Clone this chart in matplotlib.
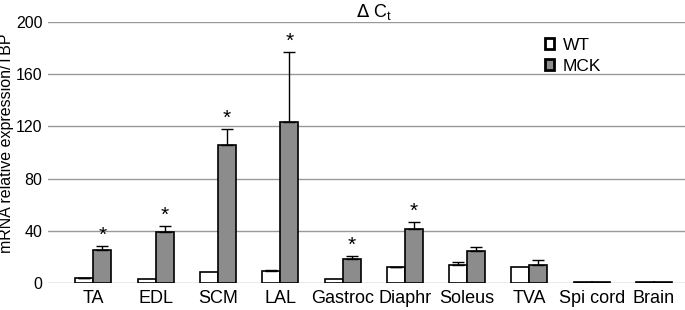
import matplotlib
matplotlib.use("Agg")
import matplotlib.pyplot as plt
import numpy as np

plt.rcParams['font.family'] = ['Liberation Sans', 'DejaVu Sans']

categories = ["TA", "EDL", "SCM", "LAL", "Gastroc", "Diaphr", "Soleus", "TVA", "Spi cord", "Brain"]
wt = [3.5, 3, 8.4, 9.2, 3, 12, 13.8, 12.0, 0.5, 0.5]
wt_err = [0.7, 0, 0, 0.8, 0, 0.5, 2.5, 0, 0, 0]
mck = [25.3, 38.8, 105.7, 123.4, 18.6, 41.4, 24.3, 14.0, 0.6, 0.6]
mck_err = [3.1, 5.1, 12.3, 53.6, 1.8, 5.1, 3.1, 3.6, 0, 0]
signif = [True, True, True, True, True, True, False, False, False, False]
yticks = [0, 40, 80, 120, 160, 200]

fig = plt.figure(figsize=(6.85, 3.1), dpi=100)
ax = fig.add_axes([48/685, 27/310, 637/685, 261/310])

x = np.arange(len(categories))
w = 0.289
ax.set_axisbelow(True)
ax.yaxis.grid(True, color='#999999', linewidth=1.0)
ax.bar(x - w/2, wt, w, color='white', edgecolor='black', linewidth=1.2, label='WT', zorder=3)
ax.bar(x + w/2, mck, w, color='#8c8c8c', edgecolor='black', linewidth=1.2, label='MCK', zorder=3)
for i in range(len(categories)):
    if wt_err[i] > 0:
        ax.errorbar(x[i] - w/2, wt[i], yerr=[[0], [wt_err[i]]], fmt='none', ecolor='black',
                    elinewidth=1.0, capsize=4, capthick=1.0, zorder=4)
    if mck_err[i] > 0:
        ax.errorbar(x[i] + w/2, mck[i], yerr=[[0], [mck_err[i]]], fmt='none', ecolor='black',
                    elinewidth=1.0, capsize=4, capthick=1.0, zorder=4)
    if signif[i]:
        ax.text(x[i] + w/2, mck[i] + mck_err[i] + 1, '*', ha='center', va='bottom', fontsize=15)

ax.set_xlim(-0.73, 9.497)
ax.set_ylim(0, 200)
ax.set_yticks(yticks)
ax.set_xticks(x)
ax.set_xticklabels(categories, fontsize=13)
ax.tick_params(axis='y', length=0, labelsize=11.5, pad=4)
ax.tick_params(axis='x', length=0, pad=5)
for s in ax.spines.values():
    s.set_visible(False)
ax.set_ylabel('mRNA relative expression/TBP', fontsize=11.5)
ax.yaxis.set_label_coords(-0.053, 0.534)
ax.set_title(r'$\Delta$ C$_\mathregular{t}$', fontsize=13, pad=3, x=0.512)
leg = ax.legend(loc='upper left', bbox_to_anchor=(0.78, 0.94), frameon=False, fontsize=12.5,
                borderpad=0, borderaxespad=0,
                handlelength=0.55, handleheight=0.55, handletextpad=0.5, labelspacing=0.35)
for h in leg.legend_handles:
    h.set_linewidth(2.0)

fig.savefig('out.png', dpi=100)
